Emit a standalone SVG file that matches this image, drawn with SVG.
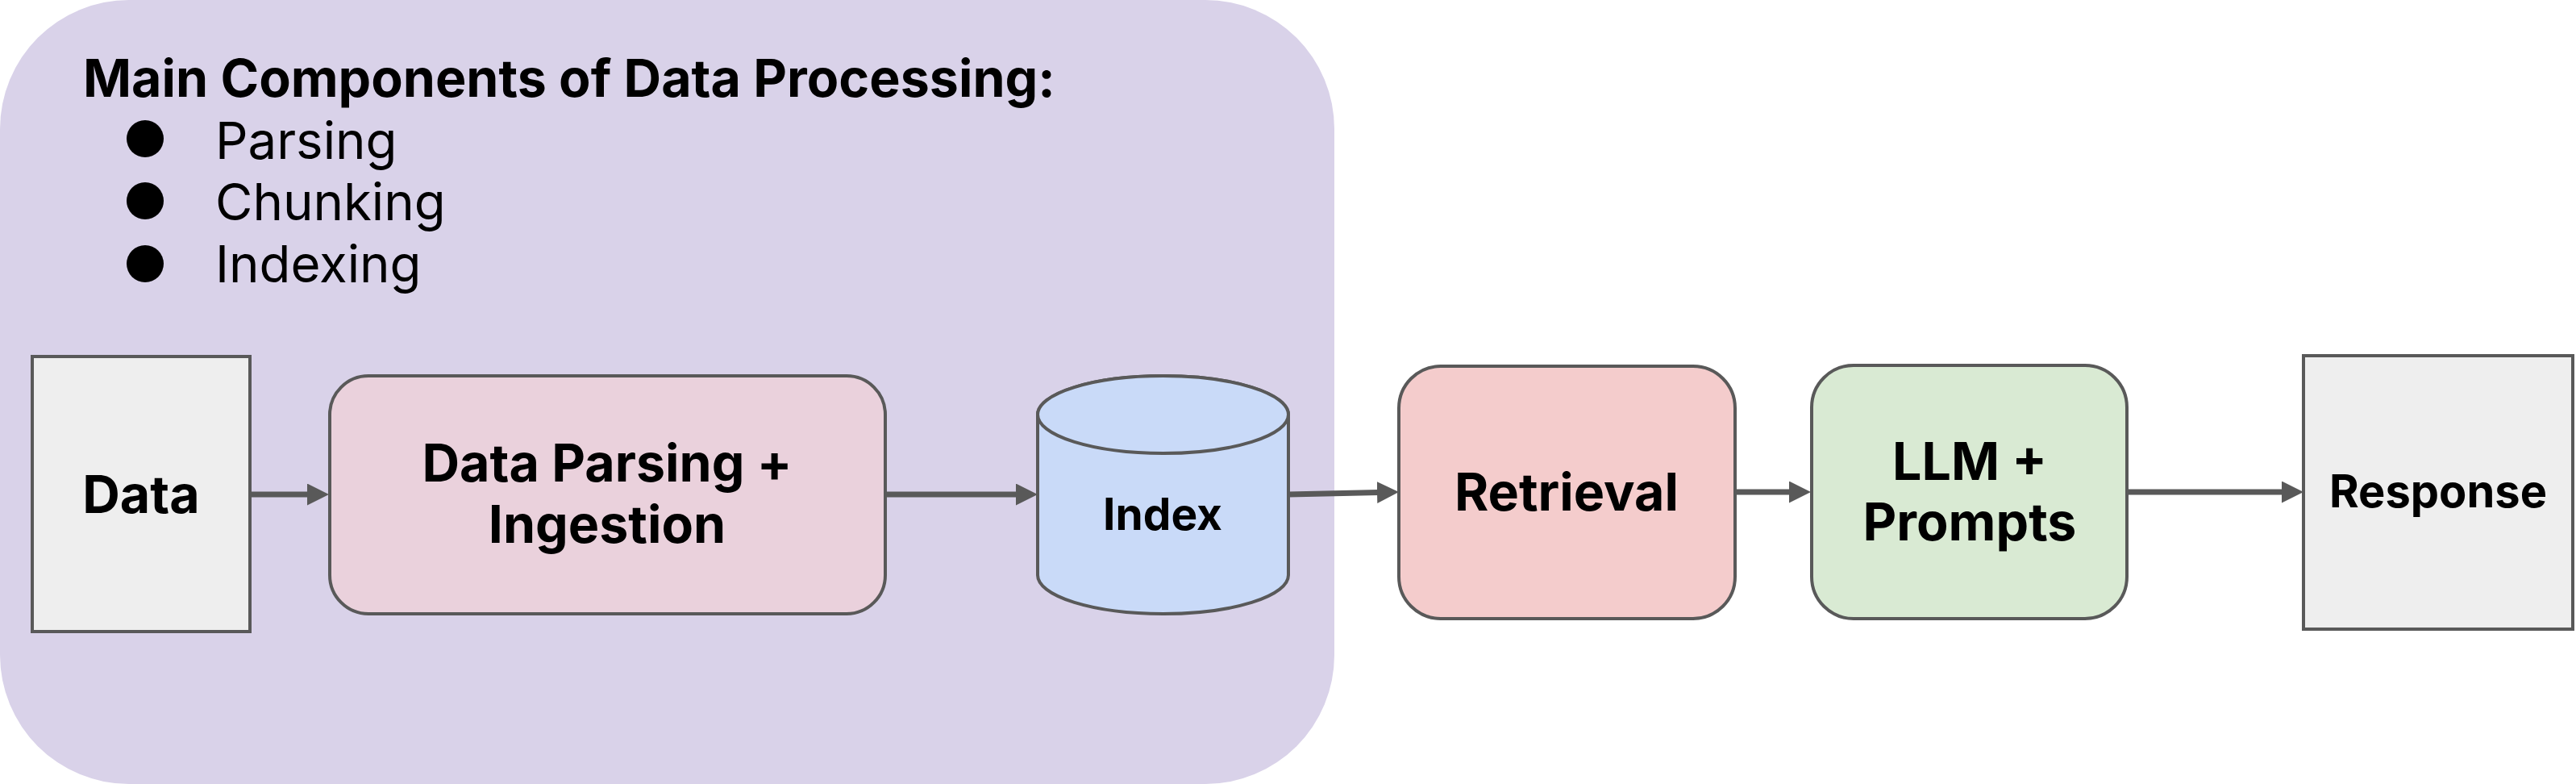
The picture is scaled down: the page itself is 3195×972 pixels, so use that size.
<svg xmlns="http://www.w3.org/2000/svg" width="3195" height="972" viewBox="0 0 3195 972">
<style>
  .lbl { font-family: Inter, "Liberation Sans", sans-serif; font-weight: 700; fill: #000; text-anchor: middle; }
  .box { stroke: #595959; stroke-width: 4; }
  .conn { stroke: #595959; stroke-width: 7; fill: none; }
  .list { font-family: Inter, "Liberation Sans", sans-serif; font-size: 63.5px; fill: #000; }
</style>
<defs>
  <marker id="arr" markerUnits="userSpaceOnUse" markerWidth="28" markerHeight="28" refX="2" refY="13.5" orient="auto">
    <path d="M0,0 L27,13.5 L0,27 Z" fill="#595959"/>
  </marker>
</defs>
<g id="group-bg">
  <rect x="0" y="0" width="1655" height="972" rx="160" ry="160" fill="#d9d2e9"/>
  <text x="103" y="120" font-family="Inter, 'Liberation Sans', sans-serif" font-weight="700" font-size="64.5">Main Components of Data Processing:</text>
  <circle cx="180" cy="172" r="23" fill="#000"/>
  <circle cx="180" cy="249" r="23" fill="#000"/>
  <circle cx="180" cy="327" r="23" fill="#000"/>
  <text class="list" x="267" y="197">Parsing</text>
  <text class="list" x="267" y="273">Chunking</text>
  <text class="list" x="267" y="350">Indexing</text>
</g>
<g id="connectors">
  <line class="conn" x1="310" y1="613" x2="383" y2="613" marker-end="url(#arr)"/>
  <line class="conn" x1="1098" y1="613" x2="1262" y2="613" marker-end="url(#arr)"/>
  <line class="conn" x1="1598" y1="613" x2="1710" y2="610.5" marker-end="url(#arr)"/>
  <line class="conn" x1="2152" y1="610" x2="2221" y2="610" marker-end="url(#arr)"/>
  <line class="conn" x1="2638" y1="610" x2="2832" y2="610" marker-end="url(#arr)"/>
</g>
<g id="node-data">
  <rect class="box" x="40" y="442" width="270" height="341" fill="#eeeeee"/>
  <text class="lbl" x="175" y="636" font-size="64.5">Data</text>
</g>
<g id="node-parsing">
  <rect class="box" x="409" y="466" width="689" height="295" rx="48" ry="48" fill="#ead1dc"/>
  <text class="lbl" x="753" y="597" font-size="64.5">Data Parsing +</text>
  <text class="lbl" x="753" y="673" font-size="64.5">Ingestion</text>
</g>
<g id="node-index">
  <path class="box" d="M1287,514 L1287,713 A155.5,48 0 0 0 1598,713 L1598,514 A155.5,48 0 0 0 1287,514 Z" fill="#c9daf8"/>
  <ellipse class="box" cx="1442.5" cy="514" rx="155.5" ry="48" fill="#c9daf8"/>
  <text class="lbl" x="1442" y="657" font-size="55">Index</text>
</g>
<g id="node-retrieval">
  <rect class="box" x="1735" y="454" width="417" height="313" rx="52" ry="52" fill="#f4cccc"/>
  <text class="lbl" x="1943" y="633" font-size="64.5">Retrieval</text>
</g>
<g id="node-llm">
  <rect class="box" x="2247" y="453" width="391" height="314" rx="52" ry="52" fill="#d9ead3"/>
  <text class="lbl" x="2443" y="595" font-size="64.5">LLM +</text>
  <text class="lbl" x="2443" y="670" font-size="64.5">Prompts</text>
</g>
<g id="node-response">
  <rect class="box" x="2857" y="441" width="334" height="339" fill="#eeeeee"/>
  <text class="lbl" x="3024" y="629" font-size="56">Response</text>
</g>
</svg>
